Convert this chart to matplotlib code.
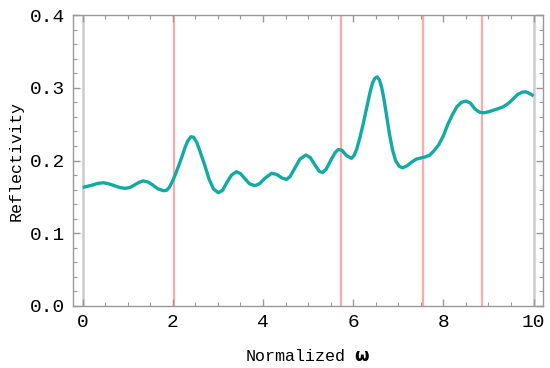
import matplotlib
matplotlib.use("Agg")
import matplotlib.pyplot as plt
from matplotlib.ticker import MultipleLocator

omega = [0.0, 0.1, 0.2, 0.33, 0.46, 0.58, 0.7, 0.82, 0.94, 1.05, 1.15, 1.25, 1.34, 1.45,
         1.55, 1.67, 1.79, 1.86, 1.92, 1.98, 2.05, 2.13, 2.2, 2.27, 2.33, 2.40, 2.46, 2.53,
         2.6, 2.71, 2.8, 2.9, 3.01, 3.1, 3.2, 3.3, 3.41, 3.5, 3.6, 3.7, 3.82, 3.92, 4.05,
         4.19, 4.3, 4.42, 4.52, 4.6, 4.7, 4.82, 4.95, 5.05, 5.15, 5.25, 5.32, 5.4, 5.5,
         5.6, 5.67, 5.75, 5.85, 5.96, 6.02, 6.08, 6.15, 6.22, 6.3, 6.37, 6.43, 6.48, 6.53,
         6.58, 6.63, 6.68, 6.74, 6.8, 6.87, 6.94, 7.02, 7.1, 7.2, 7.3, 7.4, 7.5, 7.6, 7.7,
         7.8, 7.9, 8.0, 8.1, 8.2, 8.3, 8.4, 8.5, 8.6, 8.7, 8.8, 8.9, 9.0, 9.1, 9.2, 9.33,
         9.45, 9.55, 9.65, 9.75, 9.83, 9.92, 10.0]
reflectivity = [0.163, 0.1645, 0.166, 0.1685, 0.1695, 0.168, 0.1655, 0.163, 0.1617, 0.163,
                0.1665, 0.170, 0.172, 0.1705, 0.1665, 0.161, 0.1585, 0.159, 0.163, 0.170,
                0.180, 0.193, 0.205, 0.218, 0.227, 0.2327, 0.232, 0.225, 0.213, 0.193,
                0.175, 0.161, 0.1557, 0.159, 0.170, 0.180, 0.1846, 0.182, 0.175, 0.168,
                0.1654, 0.168, 0.176, 0.1824, 0.181, 0.176, 0.174, 0.178, 0.189, 0.202,
                0.2076, 0.204, 0.194, 0.185, 0.1837, 0.188, 0.200, 0.211, 0.2153, 0.214,
                0.207, 0.203, 0.207, 0.216, 0.232, 0.250, 0.273, 0.293, 0.307, 0.313,
                0.315, 0.311, 0.301, 0.285, 0.262, 0.238, 0.215, 0.200, 0.192, 0.190,
                0.193, 0.198, 0.202, 0.2035, 0.205, 0.2076, 0.214, 0.222, 0.234, 0.250,
                0.263, 0.274, 0.280, 0.2818, 0.279, 0.271, 0.2665, 0.2657, 0.267, 0.269,
                0.271, 0.274, 0.279, 0.285, 0.291, 0.294, 0.2945, 0.292, 0.2887]
pink_lines = [2.03, 5.74, 7.55, 8.86]
gray_lines = [0.0, 10.0]
y_ticks = [0.0, 0.1, 0.2, 0.3, 0.4]
y_tick_labels = ["0.0", "0.1", "0.2", "0.3", "0.4"]

font = "Liberation Mono"
fig = plt.figure(figsize=(5.5, 3.68), dpi=100)
ax = fig.add_axes([0.1327, 0.1685, 0.987 - 0.1327, 0.959 - 0.1685])

for g in gray_lines:
    ax.axvline(g, color="#cccccc", lw=1.8, zorder=1)
for p in pink_lines:
    ax.axvline(p, color="#ffaaaa", lw=1.6, zorder=1)

ax.plot(omega, reflectivity, color="#12aaa5", lw=2.4, zorder=3,
        solid_joinstyle="round", solid_capstyle="butt")

ax.set_xlim(-0.215, 10.206)
ax.set_ylim(0, 0.4)
ax.xaxis.set_major_locator(MultipleLocator(2))
ax.xaxis.set_minor_locator(MultipleLocator(0.5))
ax.yaxis.set_minor_locator(MultipleLocator(0.02))
ax.set_yticks(y_ticks)
ax.set_yticklabels(y_tick_labels)

for s in ax.spines.values():
    s.set_color("#999999")
    s.set_linewidth(1.0)
ax.tick_params(which="both", direction="in", top=True, right=True, color="#999999")
ax.tick_params(which="major", length=5, width=1.0, labelsize=14, pad=6)
ax.tick_params(which="minor", length=3, width=0.8)
for lab in ax.get_xticklabels() + ax.get_yticklabels():
    lab.set_fontfamily(font)

ax.set_xlabel("Normalized $\\mathbf{\\omega}$", fontsize=12, fontfamily=font, labelpad=12)
ax.set_ylabel("Reflectivity", fontsize=12, fontfamily=font, labelpad=4)

fig.savefig("out.png", dpi=100)
